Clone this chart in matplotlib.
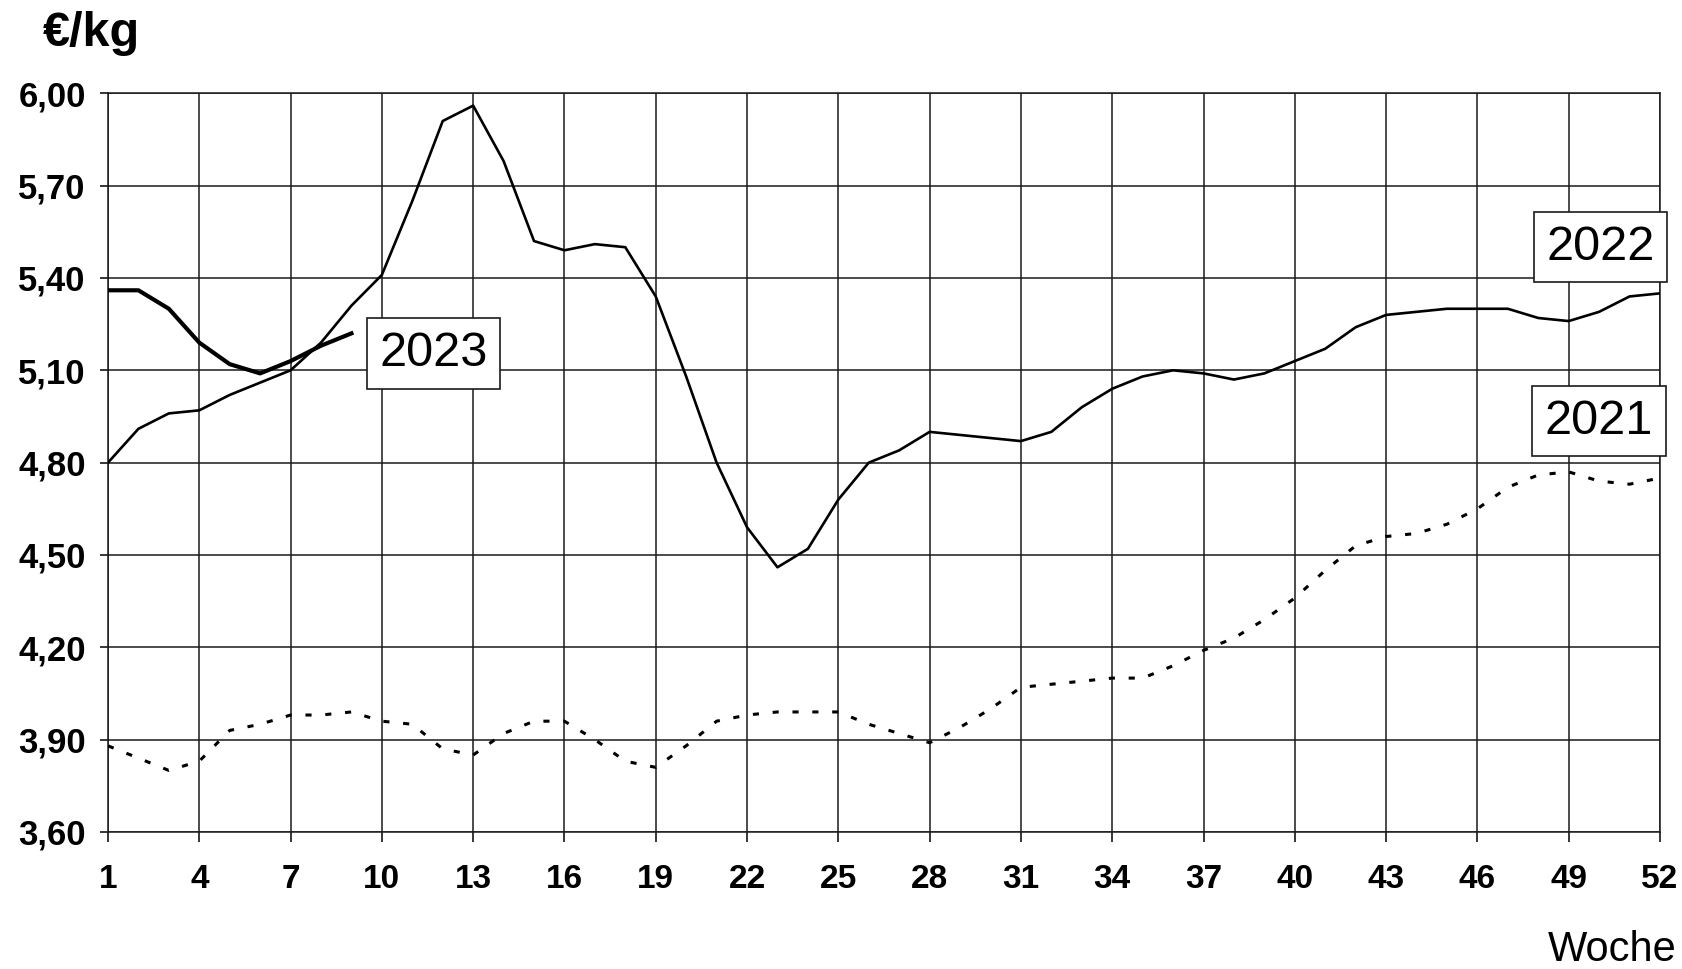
import numpy as np
import matplotlib
matplotlib.use("Agg")
import matplotlib.pyplot as plt
import matplotlib.ticker as ticker

plt.rcParams['font.family'] = ['Liberation Sans', 'DejaVu Sans']

# Wochenpreise in EUR/kg
weeks = np.arange(1, 53)
preis_2021 = [3.88, 3.84, 3.80, 3.83, 3.93, 3.95, 3.98, 3.98, 3.99, 3.96,
              3.95, 3.87, 3.85, 3.92, 3.96, 3.96, 3.90, 3.83, 3.81, 3.88,
              3.96, 3.98, 3.99, 3.99, 3.99, 3.95, 3.92, 3.89, 3.94, 4.00,
              4.07, 4.08, 4.09, 4.10, 4.10, 4.14, 4.19, 4.23, 4.29, 4.36,
              4.45, 4.53, 4.56, 4.57, 4.60, 4.65, 4.72, 4.76, 4.77, 4.74,
              4.73, 4.75]
preis_2022 = [4.80, 4.91, 4.96, 4.97, 5.02, 5.06, 5.10, 5.19, 5.31, 5.41,
              5.65, 5.91, 5.96, 5.78, 5.52, 5.49, 5.51, 5.50, 5.34, 5.08,
              4.80, 4.59, 4.46, 4.52, 4.68, 4.80, 4.84, 4.90, 4.89, 4.88,
              4.87, 4.90, 4.98, 5.04, 5.08, 5.10, 5.09, 5.07, 5.09, 5.13,
              5.17, 5.24, 5.28, 5.29, 5.30, 5.30, 5.30, 5.27, 5.26, 5.29,
              5.34, 5.35]
weeks_2023 = np.arange(1, 10)
preis_2023 = [5.36, 5.36, 5.30, 5.19, 5.12, 5.09, 5.13, 5.18, 5.22]

xticks = np.arange(1, 53, 3)
yticks = np.arange(3.60, 6.01, 0.30)

fig = plt.figure(figsize=(16.82, 9.69), dpi=100)
ax = fig.add_axes([0.0642, 0.1414, 0.9227, 0.7623])

ax.plot(weeks, preis_2021, color='black', lw=2.2, linestyle=(0, (2, 4.5)), zorder=3)
ax.plot(weeks, preis_2022, color='black', lw=1.9, zorder=3)
ax.plot(weeks_2023, preis_2023, color='black', lw=3.0, zorder=4)

ax.set_xlim(1, 52)
ax.set_ylim(3.60, 6.00)
ax.set_xticks(xticks)
ax.set_yticks(yticks)
ax.yaxis.set_major_formatter(ticker.FuncFormatter(lambda v, p: f"{v:.2f}".replace('.', ',')))
ax.grid(True, color='#1a1a1a', lw=1.1)
ax.set_axisbelow(True)
for s in ax.spines.values():
    s.set_color('#1a1a1a')
    s.set_linewidth(1.1)

ax.tick_params(axis='x', length=7, width=1.1, pad=16, labelsize=24)
ax.tick_params(axis='y', length=6, width=1.1, pad=10, labelsize=25)
for lab in ax.get_xticklabels() + ax.get_yticklabels():
    lab.set_fontweight('bold')

box = dict(boxstyle='square,pad=0.26', facecolor='white', edgecolor='#1a1a1a', lw=1.2)
ax.text(11.7, 5.155, '2023', fontsize=35, ha='center', va='center', bbox=box, zorder=5)
ax.text(50.05, 5.50, '2022', fontsize=35, ha='center', va='center', bbox=box, zorder=5)
ax.text(50.0, 4.935, '2021', fontsize=35, ha='center', va='center', bbox=box, zorder=5)

fig.text(43 / 1682, 1 - 34 / 969, '€/kg', fontsize=35, fontweight='bold', ha='left', va='center')
fig.text(1677 / 1682, 1 - 950 / 969, 'Woche', fontsize=30, ha='right', va='center')

fig.savefig('out.png', dpi=100)
